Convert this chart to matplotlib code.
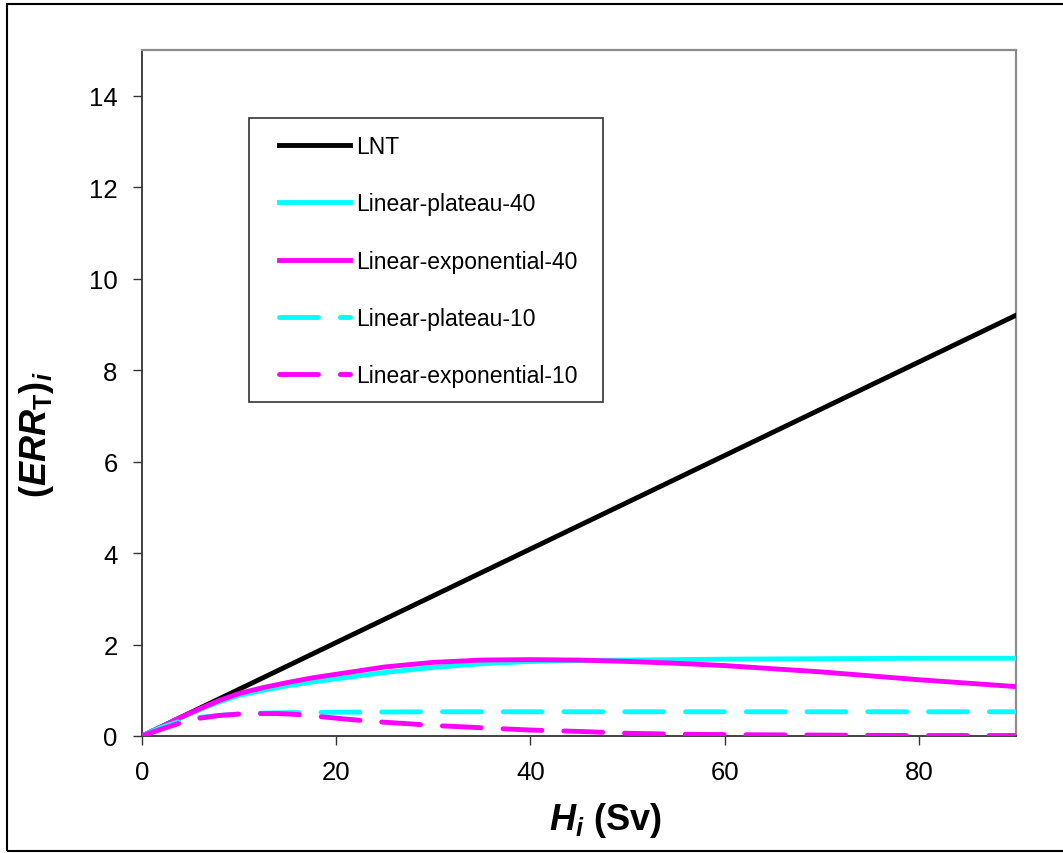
import matplotlib

matplotlib.use("Agg")
import matplotlib.pyplot as plt
from matplotlib.patches import Rectangle

plt.rcParams["font.family"] = "Liberation Sans"
plt.rcParams["mathtext.fontset"] = "custom"
plt.rcParams["mathtext.rm"] = "Liberation Sans:bold"
plt.rcParams["mathtext.it"] = "Liberation Sans:bold:italic"
plt.rcParams["mathtext.bf"] = "Liberation Sans:bold"

# ── data ────────────────────────────────────────────────────────────
lnt_h = [0, 90]
lnt_err = [0, 9.2]

lp40_h = [0, 2, 4, 6, 8, 10, 12.5, 15, 17.5, 20, 25, 30, 35, 40, 45, 50, 60,
          70, 80, 90]
lp40_err = [0, 0.2, 0.4, 0.58, 0.75, 0.89, 1.0, 1.1, 1.18, 1.25, 1.39, 1.50,
            1.58, 1.63, 1.65, 1.66, 1.68, 1.69, 1.70, 1.70]

le40_h = [0, 2, 4, 6, 8, 10, 12.5, 15, 17.5, 20, 25, 30, 35, 40, 45, 50, 55,
          60, 70, 80, 90]
le40_err = [0, 0.2, 0.41, 0.6, 0.78, 0.93, 1.06, 1.17, 1.27, 1.35, 1.51, 1.61,
            1.66, 1.67, 1.66, 1.63, 1.59, 1.54, 1.40, 1.23, 1.08]

lp10_h = [0, 2, 4, 6, 8, 10, 12, 15, 20, 30, 40, 60, 90]
lp10_err = [0, 0.19, 0.33, 0.41, 0.45, 0.48, 0.50, 0.51, 0.52, 0.53, 0.53,
            0.53, 0.53]

le10_h = [0, 2, 4, 6, 8, 10, 12, 14, 16, 18, 20, 22, 25, 28, 30, 33, 36, 40,
          45, 50, 55, 60, 70, 80, 90]
le10_err = [0, 0.15, 0.29, 0.39, 0.45, 0.48, 0.49, 0.49, 0.47, 0.43, 0.39,
            0.35, 0.30, 0.26, 0.23, 0.20, 0.17, 0.13, 0.10, 0.06, 0.04, 0.03,
            0.02, 0.01, 0.01]

CYAN = "#00FFFF"
MAGENTA = "#FF00FF"
W, H = 1063, 854

fig = plt.figure(figsize=(W / 100, H / 100), dpi=100)
ax = fig.add_axes([142 / W, 1 - 737 / H, 874 / W, 686 / H])

lw = 3.5
dash = (8, 4.5)
ax.plot(lnt_h, lnt_err, color="black", lw=lw, label="LNT")
ax.plot(lp40_h, lp40_err, color=CYAN, lw=lw, label="Linear-plateau-40")
ax.plot(le40_h, le40_err, color=MAGENTA, lw=lw, label="Linear-exponential-40")
ax.plot(lp10_h, lp10_err, color=CYAN, lw=lw, dashes=dash,
        dash_capstyle="round", label="Linear-plateau-10")
ax.plot(le10_h, le10_err, color=MAGENTA, lw=lw, dashes=dash,
        dash_capstyle="round", label="Linear-exponential-10")

ax.set_xlim(0, 90)
ax.set_ylim(0, 15)
ax.set_xticks([0, 20, 40, 60, 80])
ax.set_yticks([0, 2, 4, 6, 8, 10, 12, 14])
ax.tick_params(direction="out", length=6.5, width=1.0, pad=11,
               labelsize=18.5, color="#333333")
for side in ("left", "bottom"):
    ax.spines[side].set_color("#333333")
    ax.spines[side].set_linewidth(1.3)
for side in ("top", "right"):
    ax.spines[side].set_color("#8c8c8c")
    ax.spines[side].set_linewidth(1.6)
for s in ax.spines.values():
    s.set_zorder(1)

# legend without frame, frame drawn as a separate box
leg = ax.legend(
    loc="upper left",
    bbox_to_anchor=((279 - 142) / 874, (737 - 136) / 686),
    frameon=False,
    fontsize=16.5,
    borderpad=0,
    borderaxespad=0,
    handlelength=3.1,
    handletextpad=0.25,
    labelspacing=1.5,
)
ax.add_patch(Rectangle(((249 - 142) / 874, (737 - 403) / 686),
                       (603 - 249) / 874, (403 - 119) / 686,
                       transform=ax.transAxes, fill=False,
                       edgecolor="#333333", lw=1.2, zorder=5))

fig.text(605 / W, 1 - 821 / H, r"$H_i$ (Sv)", ha="center", va="center",
         fontsize=26, fontweight="bold")
fig.text(37 / W, 1 - 435 / H, r"$(ERR_{\mathrm{T}})_i$", ha="center",
         va="center", rotation=90, fontsize=26)

# outer chart border (right edge falls just outside the image)
fig.patches.append(Rectangle((7 / W, 1 - 852 / H), (1070 - 7) / W,
                             (852 - 5) / H, transform=fig.transFigure,
                             fill=False, edgecolor="black", lw=1.5))

fig.savefig("out.png", dpi=100)
